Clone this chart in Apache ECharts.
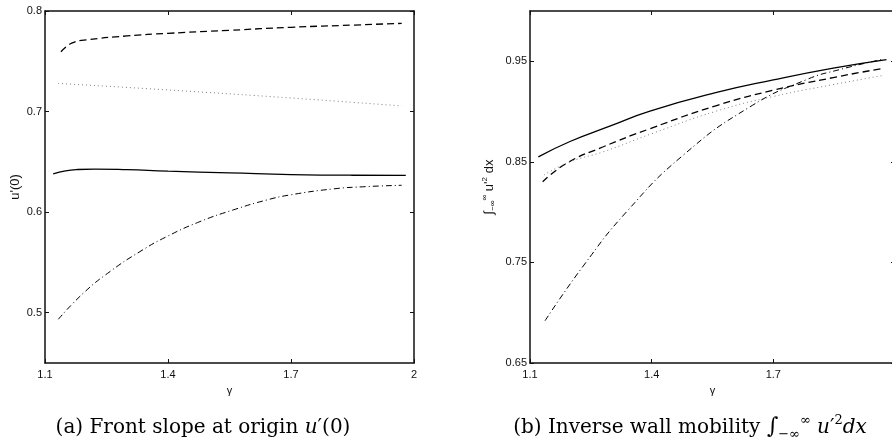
<!DOCTYPE html>
<html>
<head>
<meta charset="utf-8">
<script src="https://cdn.jsdelivr.net/npm/echarts@6/dist/echarts.min.js"></script>
<style>
  html, body { margin: 0; padding: 0; background: #fff; }
  #chart { width: 892px; height: 441px; }
</style>
</head>
<body>
<div id="chart"></div>
<script>
// Tick positions
const gammaTicks = [1.1, 1.4, 1.7, 2];
const slopeTicks = [0.5, 0.6, 0.7, 0.8];
const mobilityTicks = [0.65, 0.75, 0.85, 0.95];

// (a) front slope at origin u'(0) versus gamma
const slopeSolidGamma = [1.12, 1.15, 1.18, 1.22, 1.30, 1.40, 1.55, 1.70, 1.85, 1.98];
const slopeSolid      = [0.638, 0.6411, 0.6424, 0.6428, 0.6422, 0.6407, 0.6391, 0.6374, 0.6367, 0.6366];
const slopeDashedGamma = [1.139, 1.165, 1.20, 1.30, 1.40, 1.55, 1.70, 1.85, 1.97];
const slopeDashed      = [0.7595, 0.768, 0.7712, 0.7752, 0.7778, 0.7808, 0.7838, 0.786, 0.7877];
const slopeDottedGamma = [1.132, 1.40, 1.70, 1.97];
const slopeDotted      = [0.728, 0.7215, 0.7135, 0.7056];
const slopeDashDotGamma = [1.1325, 1.1934, 1.2585, 1.3317, 1.397, 1.478, 1.559, 1.641, 1.6976, 1.803, 1.8846, 1.97];
const slopeDashDot      = [0.4935, 0.5194, 0.5409, 0.5608, 0.5757, 0.5906, 0.6022, 0.6121, 0.6171, 0.6231, 0.6254, 0.6267];

// (b) inverse wall mobility versus gamma
const mobSolidGamma = [1.1205, 1.20, 1.30, 1.3958, 1.5602, 1.6998, 1.8477, 1.979];
const mobSolid      = [0.855, 0.8705, 0.886, 0.9005, 0.919, 0.9315, 0.9432, 0.9517];
const mobDashedGamma = [1.1313, 1.19, 1.2807, 1.3958, 1.5602, 1.6998, 1.8477, 1.971];
const mobDashed      = [0.8302, 0.8485, 0.865, 0.883, 0.906, 0.9212, 0.9338, 0.943];
const mobDottedGamma = [1.1345, 1.1986, 1.2807, 1.40, 1.56, 1.70, 1.85, 1.971];
const mobDotted      = [0.8369, 0.85, 0.86, 0.878, 0.9005, 0.915, 0.927, 0.936];
const mobDashDotGamma = [1.137, 1.2314, 1.3384, 1.4779, 1.6423, 1.782, 1.864, 1.97];
const mobDashDot      = [0.692, 0.7465, 0.8005, 0.8567, 0.9047, 0.9318, 0.9418, 0.952];

const pts = (g, v) => g.map((x, i) => [x, v[i]]);

const SANS = 'Liberation Sans, Arial, Helvetica, sans-serif';
const SERIF = 'DejaVu Serif, Liberation Serif, serif';
const INK = '#111';

function xAxes(gridIndex, withName) {
  const base = {
    type: 'value', gridIndex, min: 1.1, max: 2,
    axisLine: { show: true, lineStyle: { color: INK, width: 1.5 } },
    splitLine: { show: false },
    axisTick: { show: true, inside: true, length: 4, customValues: gammaTicks, lineStyle: { color: INK } }
  };
  return [
    Object.assign({}, base, {
      position: 'bottom',
      axisLabel: { customValues: gammaTicks, color: INK, fontFamily: SANS, fontSize: 11, margin: 6 },
      name: withName, nameLocation: 'middle', nameGap: 22,
      nameTextStyle: { color: INK, fontFamily: SANS, fontSize: 11 }
    }),
    Object.assign({}, base, { position: 'top', axisLabel: { show: false } })
  ];
}

function yAxes(gridIndex, lo, hi, ticks, name, nameGap) {
  const base = {
    type: 'value', gridIndex, min: lo, max: hi,
    axisLine: { show: true, lineStyle: { color: INK, width: 1.5 } },
    splitLine: { show: false },
    axisTick: { show: true, inside: true, length: 4, customValues: ticks, lineStyle: { color: INK } }
  };
  return [
    Object.assign({}, base, {
      position: 'left',
      axisLabel: { customValues: ticks, color: INK, fontFamily: SANS, fontSize: 11, margin: 3 },
      name, nameLocation: 'middle', nameGap, nameRotate: 90,
      nameTextStyle: {
        color: INK, fontFamily: SANS, fontSize: 13,
        rich: {
          sup: { fontSize: 8, fontFamily: SANS, color: INK, verticalAlign: 'top', lineHeight: 16 },
          sub: { fontSize: 8, fontFamily: SANS, color: INK, verticalAlign: 'bottom', lineHeight: 16 }
        }
      }
    }),
    Object.assign({}, base, { position: 'right', axisLabel: { show: false } })
  ];
}

function line(xi, yi, data, style) {
  return {
    type: 'line', xAxisIndex: xi, yAxisIndex: yi, data,
    showSymbol: false, smooth: 0.5, silent: true,
    lineStyle: style
  };
}

const solid   = { color: '#000', width: 1.3, type: 'solid' };
const dashed  = { color: '#000', width: 1.3, type: [7, 4] };
const dotted  = { color: '#808080', width: 1, type: [1, 3] };
const dashDot = { color: '#000', width: 1, type: [6, 3, 1, 3] };

const captionRich = {
  it:  { fontFamily: SERIF, fontStyle: 'italic', fontSize: 20, color: '#000' },
  int: { fontFamily: SERIF, fontSize: 22, color: '#000' },
  sup: { fontFamily: SERIF, fontSize: 13, color: '#000', verticalAlign: 'top', lineHeight: 27 },
  sub: { fontFamily: SERIF, fontSize: 13, color: '#000', verticalAlign: 'bottom', lineHeight: 27 }
};

const chart = echarts.init(document.getElementById('chart'), null, { renderer: 'canvas' });
chart.setOption({
  animation: false,
  backgroundColor: '#fff',
  title: [
    {
      text: '(a) Front slope at origin {it|u}′(0)',
      left: 198, top: 413, textAlign: 'center',
      textStyle: { fontFamily: SERIF, fontSize: 20, fontWeight: 'normal', color: '#000', rich: captionRich }
    },
    {
      text: '(b) Inverse wall mobility {int|∫}{sub|−∞}{sup|∞} {it|u}′{sup|2}{it|dx}',
      left: 685, top: 409, textAlign: 'center',
      textStyle: { fontFamily: SERIF, fontSize: 20, fontWeight: 'normal', color: '#000', rich: captionRich }
    }
  ],
  grid: [
    { left: 45, top: 11, width: 369, height: 352, outerBoundsMode: 'none' },
    { left: 530, top: 11, width: 365, height: 352, outerBoundsMode: 'none' }
  ],
  xAxis: [].concat(xAxes(0, 'γ'), xAxes(1, 'γ')),
  yAxis: [].concat(
    yAxes(0, 0.45, 0.8, slopeTicks, "u'(0)", 23),
    yAxes(1, 0.65, 1.0, mobilityTicks, "∫{sub|−∞}{sup|∞} u'{sup|2} dx", 33)
  ),
  series: [
    line(0, 0, pts(slopeDashedGamma, slopeDashed), dashed),
    line(0, 0, pts(slopeDottedGamma, slopeDotted), dotted),
    line(0, 0, pts(slopeSolidGamma, slopeSolid), solid),
    line(0, 0, pts(slopeDashDotGamma, slopeDashDot), dashDot),
    line(2, 2, pts(mobSolidGamma, mobSolid), solid),
    line(2, 2, pts(mobDashedGamma, mobDashed), dashed),
    line(2, 2, pts(mobDottedGamma, mobDotted), dotted),
    line(2, 2, pts(mobDashDotGamma, mobDashDot), dashDot)
  ]
});
</script>
</body>
</html>
